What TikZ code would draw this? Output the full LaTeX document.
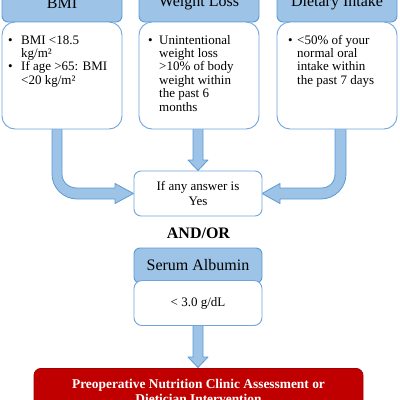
\documentclass[tikz,border=0pt]{standalone}
\usepackage{fontspec}
\setmainfont{Liberation Serif}
\definecolor{hdrblue}{HTML}{9DC3E6}
\definecolor{bordblue}{HTML}{5B9BD5}
\definecolor{boxblue}{HTML}{6FA5DB}
\definecolor{nred}{HTML}{C00000}
\definecolor{nreddark}{HTML}{A00000}
\begin{document}
\begin{tikzpicture}[x=1pt,y=-1pt,
  hdr/.style={draw=bordblue, fill=hdrblue, rounded corners=6pt, line width=0.9pt,
    minimum width=120pt, minimum height=38pt, inner sep=0pt,
    font=\fontsize{16}{18}\selectfont},
  bodybox/.style={draw=boxblue, fill=white, rounded corners=13pt, line width=0.9pt,
    minimum width=120pt, minimum height=107pt, inner sep=0pt},
  btxt/.style={anchor=north west, inner sep=0pt, align=left,
    font=\fontsize{13}{13.4}\selectfont},
  blockarrow/.style={draw=bordblue, fill=hdrblue, line width=0.8pt, line join=round}]
\useasboundingbox (0,0) rectangle (400,400);

% block arrows
\draw[blockarrow] (52,125) -- (52,174) .. controls (52,187.8) and (63.2,199) .. (77,199)
  -- (115,199) -- (115,203.5) -- (133.5,193.5) -- (115,183.5) -- (115,188) -- (77,188)
  .. controls (68.7,188) and (62,182.3) .. (62,174) -- (62,125) -- cycle;
\draw[blockarrow] (346,125) -- (346,174) .. controls (346,187.8) and (334.8,199) .. (321,199)
  -- (280,199) -- (280,203.5) -- (262,193.5) -- (280,183.5) -- (280,188) -- (321,188)
  .. controls (329.3,188) and (335,182.3) .. (335,174) -- (335,125) -- cycle;
\draw[blockarrow] (193,125) -- (193,160) -- (188,160) -- (198,170.5) -- (208,160)
  -- (203,160) -- (203,125) -- cycle;
\draw[blockarrow] (193,322) -- (193,357) -- (188,357) -- (198,367.5) -- (208,357)
  -- (203,357) -- (203,322) -- cycle;

% headers
\node[hdr] (bmih) at (62,3) {BMI};
\node[hdr] (wlh) at (199,3) {Weight Loss};
\node[hdr] (dih) at (337,3) {Dietary Intake};

% bodies
\node[bodybox] (bmib) at (62,75.5) {};
\node[bodybox] (wlb) at (199,75.5) {};
\node[bodybox] (dib) at (337,75.5) {};

\node[btxt] (bmit) at (8,34.5) {\begin{tabular}{@{}p{13pt}@{}l@{}}
  • & BMI <18.5\\ & kg/m²\\ • & If age >65: BMI\\ & <20 kg/m²\end{tabular}};
\node[btxt] (wlt) at (148,34.5) {\begin{tabular}{@{}p{11pt}@{}l@{}}
  • & Unintentional\\ & weight loss\\ & >10\% of body\\ & weight within\\ & the past 6\\ & months\end{tabular}};
\node[btxt] (dit) at (288,34.5) {\begin{tabular}{@{}p{9pt}@{}l@{}}
  • & <50\% of your\\ & normal oral\\ & intake within\\ & the past 7 days\end{tabular}};

% middle
\node[draw=boxblue, fill=white, rounded corners=7pt, line width=0.9pt,
  minimum width=128pt, minimum height=45pt, inner sep=0pt, align=center,
  font=\fontsize{13}{14.5}\selectfont] (yes) at (198,193.5) {If any answer is\\Yes};
\node[font=\bfseries\fontsize{16}{18}\selectfont] (andor) at (198.5,233) {AND/OR};

\node[hdr, minimum width=128pt, minimum height=35pt] (serh) at (198,265.5) {Serum Albumin};
\node[bodybox, minimum width=128pt, minimum height=45pt, rounded corners=8pt,
  font=\fontsize{13}{14}\selectfont] (serb) at (198,303) {< 3.0 g/dL};

\node[fill=nred, draw=nreddark, rounded corners=7pt, line width=0.8pt,
  minimum width=329pt, minimum height=46pt, anchor=north, align=center, text=white,
  inner sep=0pt, font=\bfseries\fontsize{13.4}{15}\selectfont] (red) at (198.5,368)
  {Preoperative Nutrition Clinic Assessment or\\Dietician Intervention};
\end{tikzpicture}
\end{document}
